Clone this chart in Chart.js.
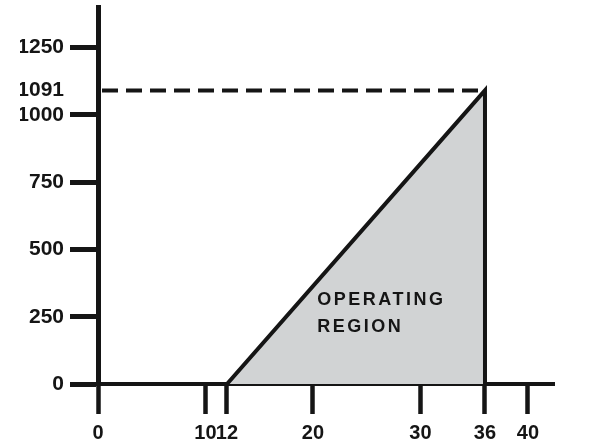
<!DOCTYPE html>
<html>
<head>
<meta charset="utf-8">
<script src="https://cdn.jsdelivr.net/npm/chart.js@4/dist/chart.umd.min.js"></script>
<style>
  html, body { margin: 0; padding: 0; background: #fff; }
  #wrap { width: 595px; height: 443px; }
</style>
</head>
<body>
<div id="wrap"><canvas id="grafico"></canvas></div>
<script>
// valores
const xTicks = [0, 10, 12, 20, 30, 36, 40]
const yTicks = [0, 250, 500, 750, 1000, 1091, 1250]
const regionX = [12, 36, 36]
const regionY = [0, 1091, 0]
const limiteX = [0, 36]
const limiteY = [1091, 1091]
const etiquetaRegion = ["OPERATING", "REGION"]

const negro = "#151515"

let puntos = (xs, ys) => xs.map((x, i) => ({x: x, y: ys[i]}))

// texto dentro del triangulo
const textoRegion = {
  id: "textoRegion",
  afterDatasetsDraw(chart) {
    const ctx = chart.ctx
    const sx = chart.scales.x
    const sy = chart.scales.y
    ctx.save()
    ctx.fillStyle = negro
    ctx.font = "bold 18px 'Liberation Sans', Arial, sans-serif"
    ctx.letterSpacing = "2.5px"
    ctx.textAlign = "left"
    ctx.textBaseline = "middle"
    ctx.fillText(etiquetaRegion[0], sx.getPixelForValue(20.4), sy.getPixelForValue(312))
    ctx.fillText(etiquetaRegion[1], sx.getPixelForValue(20.4), sy.getPixelForValue(212))
    ctx.restore()
  }
}

const fuenteX = {family: "'Liberation Sans', Arial, sans-serif", size: 20, weight: "bold"}
const fuenteY = {family: "'Liberation Sans', Arial, sans-serif", size: 21, weight: "bold"}

new Chart(document.getElementById("grafico"), {
  type: "line",
  data: {
    datasets: [{
        data: puntos(regionX, regionY),
        borderColor: negro,
        borderWidth: 4,
        backgroundColor: "#d1d3d4",
        fill: "origin",
        pointRadius: 0,
        tension: 0,
        order: 2
      },
      {
        data: puntos(limiteX, limiteY),
        borderColor: negro,
        borderWidth: 4,
        borderDash: [16, 8],
        borderDashOffset: -4,
        borderCapStyle: "butt",
        fill: false,
        pointRadius: 0,
        order: 1
      }
    ]
  },
  options: {
    responsive: true,
    maintainAspectRatio: false,
    animation: false,
    layout: {
      padding: {left: 20, right: 41, top: 7, bottom: 0}
    },
    plugins: {
      legend: {display: false},
      tooltip: {enabled: false}
    },
    scales: {
      x: {
        type: "linear",
        position: "bottom",
        min: 0,
        max: 42.42,
        afterBuildTicks: (scale) => { scale.ticks = xTicks.map(v => ({value: v})) },
        afterFit: (scale) => {
          scale.height = 59
          scale.paddingLeft = 0
          scale.paddingRight = 0
        },
        border: {display: true, color: negro, width: 4},
        grid: {
          drawOnChartArea: false,
          drawTicks: true,
          tickLength: 30,
          tickWidth: 4.5,
          tickColor: negro
        },
        ticks: {
          autoSkip: false,
          maxRotation: 0,
          padding: 7,
          color: negro,
          font: fuenteX,
          callback: (v) => String(v)
        }
      },
      y: {
        type: "linear",
        position: "left",
        min: 0,
        max: 1401,
        afterBuildTicks: (scale) => { scale.ticks = yTicks.map(v => ({value: v})) },
        afterFit: (scale) => {
          scale.width = 78
          scale.paddingTop = 0
          scale.paddingBottom = 0
        },
        border: {display: true, color: negro, width: 5},
        grid: {
          drawOnChartArea: false,
          drawTicks: true,
          tickLength: 28,
          tickWidth: 5,
          tickColor: (c) => c.tick && c.tick.value === 1091 ? "rgba(0,0,0,0)" : negro
        },
        ticks: {
          autoSkip: false,
          padding: 6,
          color: negro,
          font: fuenteY,
          callback: (v) => String(v)
        }
      }
    }
  },
  plugins: [textoRegion]
})
</script>
</body>
</html>
